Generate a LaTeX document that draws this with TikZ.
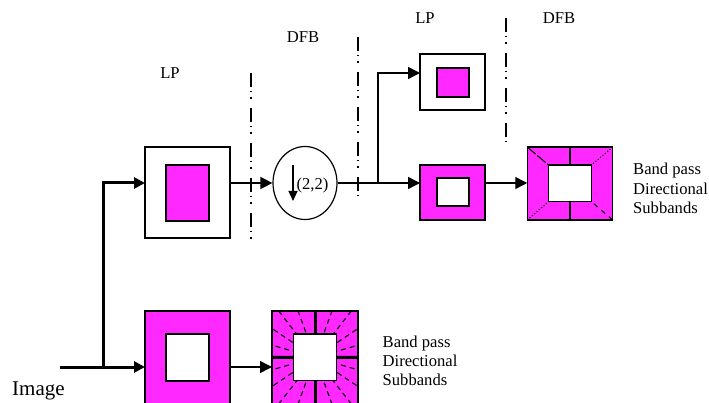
\documentclass[tikz,border=0pt]{standalone}
\usepackage{fontspec}
\setmainfont{Liberation Serif}
\usetikzlibrary{shapes.geometric,arrows.meta}
\definecolor{band}{RGB}{255,40,255}
\begin{document}
\begin{tikzpicture}[x=1pt,y=-1pt,
  frame/.style={draw=black, line width=1.4pt, inner sep=0pt, outer sep=0pt},
  conn/.style={line width=1.4pt},
  arrowconn/.style={conn, -{Triangle[length=12pt,width=12pt]}},
  bigarrow/.style={line width=3pt, -{Triangle[length=11pt,width=11pt]}},
  stagesep/.style={line width=1.5pt, dash pattern=on 14pt off 4pt on 1.5pt off 5pt on 1.5pt off 9pt},
  label/.style={font=\fontsize{16.6}{19}\selectfont, inner sep=0pt},
  ray/.style={line width=1.1pt, dash pattern=on 5pt off 4pt},
  divider/.style={line width=3pt}
]
\useasboundingbox (0,0) rectangle (709,403);

% row heights of the signal paths
\coordinate (row0) at (0,73);
\coordinate (row1) at (0,183);
\coordinate (row2) at (0,367);

% stage separators
\coordinate (s1a) at (251,73);  \coordinate (s1b) at (251,240);
\coordinate (s2a) at (358,37);  \coordinate (s2b) at (358,200);
\coordinate (s3a) at (506,18);  \coordinate (s3b) at (506,147);
\draw[stagesep] (s1a) -- (s1b);
\draw[stagesep] (s2a) -- (s2b);
\draw[stagesep] (s3a) -- (s3b);

% stage labels
\node[label] (lpA) at (170,73) {LP};
\node[label] (dfbA) at (303,37) {DFB};
\node[label] (lpB) at (425,18) {LP};
\node[label] (dfbB) at (559,18) {DFB};

% first Laplacian stage: lowpass
\node[frame, minimum width=85, minimum height=91] (lp1) at (187.5,192.5) {};
\node[frame, line width=1.2pt, fill=band, minimum width=43, minimum height=56] (lp1in) at (187.5,193) {};

% first Laplacian stage: bandpass
\node[frame, fill=band, minimum width=85, minimum height=93] (lp2) at (187.5,357.5) {};
\node[frame, line width=1.2pt, fill=white, minimum width=43, minimum height=47] (lp2in) at (187.5,357.5) {};

% downsampler
\node[draw, ellipse, line width=1.2pt, inner sep=0pt, minimum width=64, minimum height=73] (ds) at (305,183) {};
\coordinate (dtop) at (293,165);
\coordinate (dbot) at (293,201);
\draw[line width=1.2pt, -{Triangle[length=10pt,width=9pt]}] (dtop) -- (dbot);
\node[label] (dsl) at (312.5,185.5) {(2,2)};

% second Laplacian stage: lowpass
\node[frame, minimum width=65, minimum height=56] (lp3) at (452.5,82) {};
\node[frame, line width=1.2pt, fill=band, minimum width=32, minimum height=29] (lp3in) at (453,82.5) {};

% second Laplacian stage: bandpass
\node[frame, fill=band, minimum width=65, minimum height=55] (lp4) at (452.5,192.5) {};
\node[frame, line width=1.2pt, fill=white, minimum width=32, minimum height=28] (lp4in) at (453,192) {};

% coarse directional filter bank
\node[frame, fill=band, minimum width=85.5, minimum height=73] (dfb1) at (570,183.5) {};
\draw[line width=1.2pt] (dfb1.north) -- (570,165);
\draw[line width=1.2pt] (570,201.7) -- (dfb1.south);
\draw[line width=1.1pt, dash pattern=on 11pt off 2pt] (dfb1.north west) -- (548.5,165);
\draw[line width=1.1pt, dotted] (dfb1.north east) -- (591.5,165);
\draw[line width=1.1pt, dotted] (dfb1.south west) -- (548.5,201.7);
\draw[line width=1.1pt, dash pattern=on 5pt off 5pt] (dfb1.south east) -- (591.5,201.7);
\node[frame, line width=1.2pt, fill=white, minimum width=43, minimum height=36.5] (dfb1in) at (570,183.3) {};

% fine directional filter bank
\node[frame, fill=band, minimum width=86, minimum height=93] (dfb2) at (315,357.5) {};
\begin{scope}
  \clip (dfb2.north west) rectangle (dfb2.south east);
  \foreach \a in {16,34,52,70} {
    \foreach \b in {\a, 180-\a, 180+\a, -\a} {
      \draw[ray] (dfb2.center) -- ++(\b:80);
    }
  }
\end{scope}
\node[frame, line width=1.2pt, fill=white, minimum width=43.5, minimum height=46.7] (dfb2in) at (315,357.3) {};
\draw[divider] (dfb2.north) -- (dfb2in.north);
\draw[divider] (dfb2in.south) -- (dfb2.south);
\draw[divider] (dfb2.west) -- (dfb2in.west);
\draw[divider] (dfb2in.east) -- (dfb2.east);
\node[frame, fill=none, minimum width=86, minimum height=93] at (315,357.5) {};

% input and connectors
\node[font=\fontsize{21}{25}\selectfont, inner sep=0pt, anchor=base west] (img) at (12,395) {Image};
\coordinate (in) at (60,367);
\coordinate (fork) at (103,367);
\coordinate (fork2) at (378,183);
\draw[bigarrow] (in) -- (lp2.west |- row2);
\draw[bigarrow] (fork) |- (lp1.west |- row1);
\draw[arrowconn] (lp1.east |- row1) -- (ds.west);
\draw[conn] (ds.east) -- (fork2);
\draw[arrowconn] (fork2) |- (lp3.west |- row0);
\draw[arrowconn] (fork2) -- (lp4.west |- row1);
\draw[arrowconn] (lp4.east |- row1) -- (dfb1.west |- row1);
\draw[arrowconn] (lp2.east |- row2) -- (dfb2.west |- row2);

% output captions
\node[label, anchor=base west] (outA1) at (633,175) {Band pass};
\node[label, anchor=base west] (outA2) at (633,194.5) {Directional};
\node[label, anchor=base west] (outA3) at (633,214) {Subbands};
\node[label, anchor=base west] (outB1) at (382.5,347.3) {Band pass};
\node[label, anchor=base west] (outB2) at (382.5,366.5) {Directional};
\node[label, anchor=base west] (outB3) at (382.5,385.7) {Subbands};
\end{tikzpicture}
\end{document}
